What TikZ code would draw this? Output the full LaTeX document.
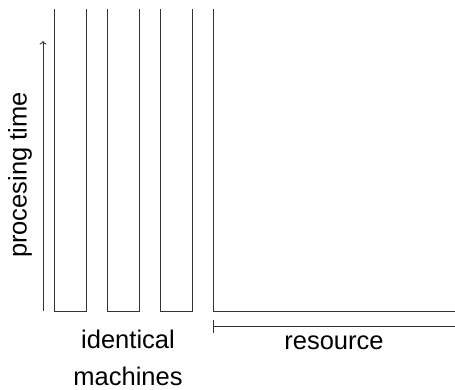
\documentclass[tikz,border=0pt]{standalone}
\usepackage{fontspec}
\setmainfont{Liberation Sans}
\usetikzlibrary{arrows.meta}
\tikzset{
  ln/.style={line width=0.9pt, draw=black!80},
  lbl/.style={inner sep=0pt, font=\fontsize{25.5}{30}\selectfont}
}
\begin{document}
\begin{tikzpicture}[x=1pt,y=1pt]
\useasboundingbox (0,0) rectangle (455,389);
\begin{scope}
\clip (0,0) rectangle (455,389);
% machines (open-top bins)
\draw[ln] (54,380) -- (54,78) -- (86,78) -- (86,380);
\draw[ln] (107,380) -- (107,78) -- (139,78) -- (139,380);
\draw[ln] (160,380) -- (160,78) -- (192,78) -- (192,380);
% resource bin
\draw[ln] (213,380) -- (213,78) -- (456,78);
% time axis
\coordinate (t0) at (43,78);
\coordinate (t1) at (43,348);
\draw[ln, -{To[length=3.5pt,width=7pt]}] (t0) -- (t1);
% resource bar
\coordinate (r0) at (213,63);
\coordinate (r1) at (456,63);
\draw[ln, {Bar[width=13pt]}-] (r0) -- (r1);
\end{scope}
\node[lbl, rotate=90] (pt) at (20,214) {procesing time};
\node[lbl] (id) at (128,50) {identical};
\node[lbl] (ma) at (128,13) {machines};
\node[lbl] (rs) at (334,46) {resource};
\end{tikzpicture}
\end{document}
